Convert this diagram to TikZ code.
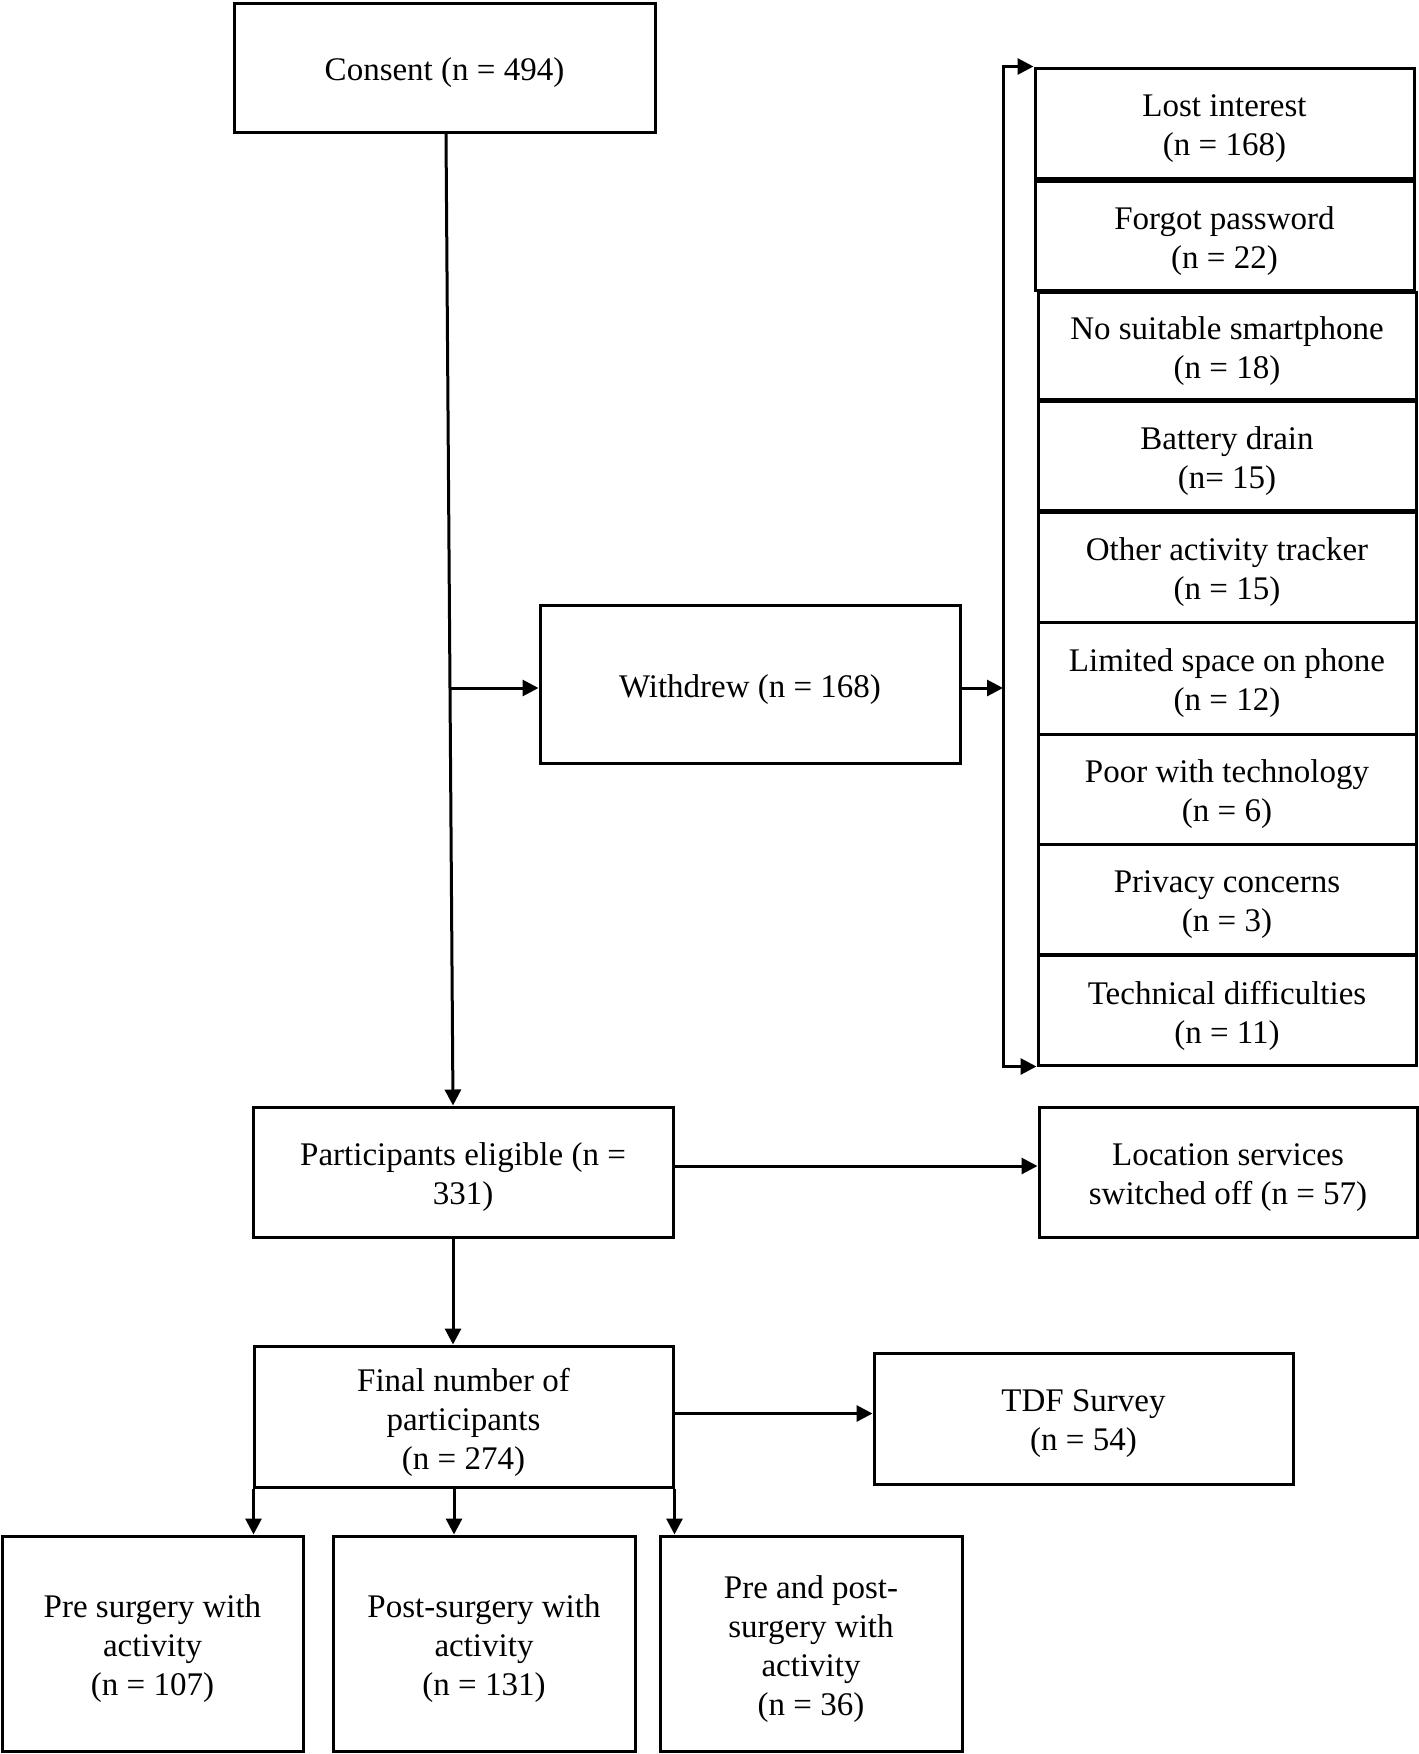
\documentclass[tikz,border=0pt]{standalone}
\usepackage{fontspec}
\setmainfont{Liberation Serif}
\usetikzlibrary{arrows.meta,calc}
\begin{document}
\begin{tikzpicture}[x=1pt,y=-1pt,
  box/.style={draw,line width=3pt,rectangle,inner sep=0pt},
  txt/.style={align=center,inner sep=0pt,yshift=-5.5pt,
    font=\fontsize{33}{39}\selectfont},
  arr/.style={line width=3pt,-{Triangle[length=16pt,width=16pt]}}]
\useasboundingbox (0,0) rectangle (1419,1754);
\node[box,minimum width=421,minimum height=129,label={[txt]center:{Consent (n = 494)}}] (consent) at (444.5,67.5) {};
\node[box,minimum width=420,minimum height=158,label={[txt]center:{Withdrew (n = 168)}}] (withdrew) at (750,684) {};
\node[box,minimum width=379,minimum height=110,label={[txt]center:{Lost interest\\(n = 168)}}] (lost) at (1224.5,123) {};
\node[box,minimum width=379,minimum height=109,label={[txt]center:{Forgot password\\(n = 22)}}] (forgot) at (1224.5,235.5) {};
\node[box,minimum width=378,minimum height=107,label={[txt]center:{No suitable smartphone\\(n = 18)}}] (nosmart) at (1227,345.5) {};
\node[box,minimum width=378,minimum height=109,label={[txt]center:{Battery drain\\(n= 15)}}] (battery) at (1227,455.5) {};
\node[box,minimum width=378,minimum height=110,label={[txt]center:{Other activity tracker\\(n = 15)}}] (other) at (1227,567) {};
\node[box,minimum width=378,minimum height=112,label={[txt]center:{Limited space on phone\\(n = 12)}}] (limited) at (1227,678) {};
\node[box,minimum width=378,minimum height=110,label={[txt]center:{Poor with technology\\(n = 6)}}] (poor) at (1227,789) {};
\node[box,minimum width=378,minimum height=110,label={[txt]center:{Privacy concerns\\(n = 3)}}] (privacy) at (1227,899) {};
\node[box,minimum width=378,minimum height=110,label={[txt]center:{Technical difficulties\\(n = 11)}}] (tech) at (1227,1010) {};
\node[box,minimum width=420,minimum height=130,label={[txt]center:{Participants eligible (n =\\331)}}] (eligible) at (463,1172) {};
\node[box,minimum width=378,minimum height=130,label={[txt]center:{Location services\\switched off (n = 57)}}] (location) at (1228,1172) {};
\node[box,minimum width=419,minimum height=141,label={[txt]center:{Final number of\\participants\\(n = 274)}}] (final) at (463.5,1416.5) {};
\node[box,minimum width=419,minimum height=131,label={[txt]center:{TDF Survey\\(n = 54)}}] (tdf) at (1083.5,1418.5) {};
\node[box,minimum width=301,minimum height=215,label={[txt]center:{Pre surgery with\\activity\\(n = 107)}}] (pre) at (152.5,1643.5) {};
\node[box,minimum width=302,minimum height=215,label={[txt]center:{Post-surgery with\\activity\\(n = 131)}}] (post) at (484,1643.5) {};
\node[box,minimum width=302,minimum height=215,label={[txt]center:{Pre and post-\\surgery with\\activity\\(n = 36)}}] (both) at (811,1643.5) {};
% connectors
\draw[arr] ($(consent.south)+(1.5,0)$) -- ($(eligible.north)+(-10,0)$);
\coordinate (br) at (450,688);
\draw[arr] (br) -- (br -| withdrew.west);
\coordinate (bk) at (1003,688);
\draw[arr] (br -| withdrew.east) -- (bk);
\draw[arr] (bk) -- (bk |- lost.north west) -- (lost.north west);
\draw[arr] (bk) -- (bk |- tech.south west) -- (tech.south west);
\draw[arr] ($(eligible.east)+(0,-6)$) coordinate (e2) -- (e2 -| location.west);
\draw[arr] ($(eligible.south)+(-10,0)$) coordinate (e1) -- (e1 |- final.north);
\draw[arr] ($(final.east)+(0,-3)$) coordinate (f1) -- (f1 -| tdf.west);
\draw[arr] ($(final.south west)+(1,0)$) coordinate (f2) -- (f2 |- pre.north);
\draw[arr] ($(final.south)+(-9.5,0)$) coordinate (f3) -- (f3 |- post.north);
\draw[arr] (final.south east) -- (final.south east |- both.north);
\end{tikzpicture}
\end{document}
